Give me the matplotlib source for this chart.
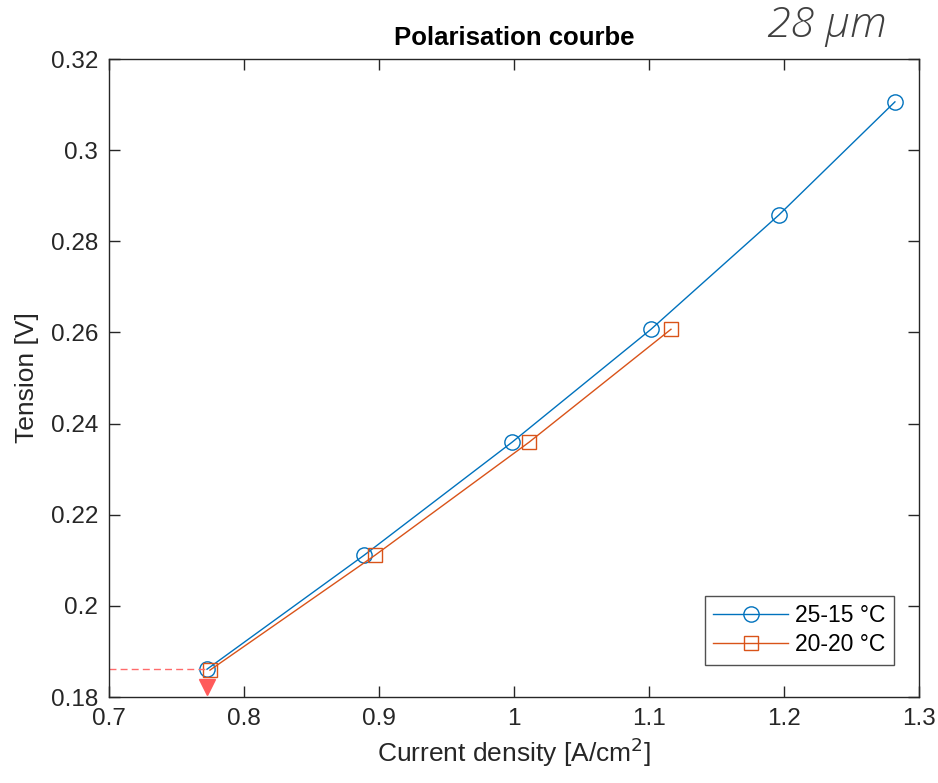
import matplotlib
matplotlib.use("Agg")
import matplotlib.pyplot as plt

plt.rcParams["font.family"] = ["Liberation Sans", "DejaVu Sans"]

# data
j_25_15 = [0.7726, 0.8889, 0.9985, 1.1015, 1.1963, 1.2822]
v_25_15 = [0.1861, 0.2111, 0.2359, 0.2607, 0.2858, 0.3106]
j_20_20 = [0.7748, 0.8970, 1.0111, 1.1163]
v_20_20 = [0.1859, 0.2111, 0.2359, 0.2607]
labels = ["25-15 °C", "20-20 °C"]
x_ticks = [0.7, 0.8, 0.9, 1.0, 1.1, 1.2, 1.3]
x_tick_labels = ["0.7", "0.8", "0.9", "1", "1.1", "1.2", "1.3"]
y_ticks = [0.18, 0.2, 0.22, 0.24, 0.26, 0.28, 0.3, 0.32]
y_tick_labels = ["0.18", "0.2", "0.22", "0.24", "0.26", "0.28", "0.3", "0.32"]

blue = "#0072BD"
orange = "#D95319"
axis_col = "#262626"

fig = plt.figure(figsize=(9.38, 7.83), dpi=100)
ax = fig.add_axes([0.1162, 0.1098, 0.8635, 0.8148])

ax.plot(j_25_15, v_25_15, "-o", color=blue, lw=1.0, ms=11, mfc="none", mew=1.0, label=labels[0])
ax.plot(j_20_20, v_20_20, "-s", color=orange, lw=1.0, ms=10, mfc="none", mew=1.0, label=labels[1])

# dashed marker line for the lowest point and the arrow below it
ax.plot([0.7, j_25_15[0]], [v_25_15[0], v_25_15[0]], "--", color="#FF6B6B", lw=1.0,
        dashes=(5, 3))
ax.plot([j_25_15[0]], [0.1822], "v", color="#FF5A5A", ms=12)

ax.set_xlim(0.7, 1.3)
ax.set_ylim(0.18, 0.32)
ax.set_xticks(x_ticks)
ax.set_xticklabels(x_tick_labels)
ax.set_yticks(y_ticks)
ax.set_yticklabels(y_tick_labels)
ax.tick_params(direction="in", length=8, width=1.0, top=True, right=True,
               labelsize=17.5, colors=axis_col, pad=8)
for s in ax.spines.values():
    s.set_color(axis_col)
    s.set_linewidth(1.0)

ax.set_xlabel("Current density [A/cm$^2$]", fontsize=19, color=axis_col, labelpad=4)
ax.set_ylabel("Tension [V]", fontsize=19, color=axis_col, labelpad=8)
ax.set_title("Polarisation courbe", fontsize=18.5, fontweight="bold", pad=10)

fig.text(0.882, 0.967, "28 µm", fontsize=31, style="italic", color="#404040",
         ha="center", va="center", family=["Open Sans", "DejaVu Sans"], fontweight="light")

leg = ax.legend(loc="lower right", bbox_to_anchor=(0.983, 0.033), fontsize=16.5,
                frameon=True, fancybox=False, edgecolor=axis_col, handlelength=3.3,
                borderpad=0.35, labelspacing=0.3, handletextpad=0.3)
leg.get_frame().set_linewidth(1.0)

fig.savefig("out.png", dpi=100)
